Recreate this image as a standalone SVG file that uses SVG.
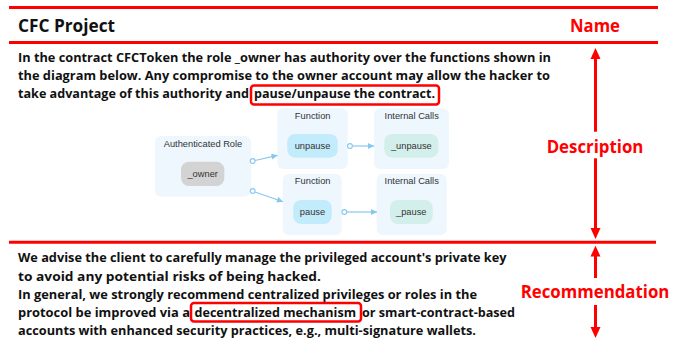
<svg xmlns="http://www.w3.org/2000/svg" width="685" height="343" viewBox="0 0 685 343">
<style>
.rule{stroke:#ff0000;stroke-width:3}
.body{font-family:"Open Sans","Noto Sans",sans-serif;font-weight:700;font-size:13px;fill:#111}
.ann{font-family:"Open Sans","Noto Sans",sans-serif;font-weight:700;font-size:18px;fill:#ff0000;text-anchor:middle}
.hl{fill:none;stroke:#ff0000;stroke-width:2.5}
.cl{fill:#eef6fe}
.lbl{font-family:"Liberation Sans",Arial,sans-serif;font-size:9.3px;fill:#333;text-anchor:middle}
.fn{fill:#c2ebfb}
.ic{fill:#d3efeb}
.role{fill:#d3d3d3}
.edge{stroke:#86c8ee;stroke-width:1.2;fill:none}
.dot{fill:#fff;stroke:#86c8ee;stroke-width:1.1}
.rarr{stroke:#ff0000;stroke-width:3}
</style>
<defs>
<marker id="ah" viewBox="0 0 10 10" refX="10" refY="5" markerWidth="7" markerHeight="6" markerUnits="userSpaceOnUse" orient="auto">
<path d="M0,0 L10,5 L0,10 z" fill="#86c8ee"/>
</marker>
</defs>
<rect width="685" height="343" fill="#fff"/>

<g id="rules">
<line class="rule" x1="9" y1="7.5" x2="658" y2="7.5"/>
<line class="rule" x1="9" y1="42.5" x2="658" y2="42.5"/>
<line class="rule" x1="9" y1="242.3" x2="656" y2="242.3"/>
</g>

<g id="title">
<text x="18" y="31.7" font-family="Open Sans, Noto Sans, sans-serif" font-weight="700" font-size="18" fill="#111" textLength="97" lengthAdjust="spacingAndGlyphs">CFC Project</text>
</g>

<g id="description-text">
<text class="body" x="18" y="62" textLength="533" lengthAdjust="spacingAndGlyphs">In the contract CFCToken the role _owner has authority over the functions shown in</text>
<text class="body" x="18" y="80" textLength="532" lengthAdjust="spacingAndGlyphs">the diagram below. Any compromise to the owner account may allow the hacker to</text>
<text class="body" x="18" y="98" textLength="231" lengthAdjust="spacingAndGlyphs">take advantage of this authority and</text>
<text class="body" x="254" y="98" textLength="181" lengthAdjust="spacingAndGlyphs">pause/unpause the contract.</text>
<rect class="hl" x="251" y="85.5" width="188" height="19" rx="3"/>
</g>

<g id="recommendation-text">
<text class="body" x="18" y="262" textLength="488.5" lengthAdjust="spacingAndGlyphs">We advise the client to carefully manage the privileged account's private key</text>
<text class="body" x="18" y="280.5" textLength="303" lengthAdjust="spacingAndGlyphs">to avoid any potential risks of being hacked.</text>
<text class="body" x="18" y="299" textLength="459" lengthAdjust="spacingAndGlyphs">In general, we strongly recommend centralized privileges or roles in the</text>
<text class="body" x="18" y="317" textLength="172" lengthAdjust="spacingAndGlyphs">protocol be improved via a</text>
<text class="body" x="194.5" y="317" textLength="161.5" lengthAdjust="spacingAndGlyphs">decentralized mechanism</text>
<text class="body" x="362" y="317" textLength="153" lengthAdjust="spacingAndGlyphs">or smart-contract-based</text>
<text class="body" x="18" y="335" textLength="458" lengthAdjust="spacingAndGlyphs">accounts with enhanced security practices, e.g., multi-signature wallets.</text>
<rect class="hl" x="191" y="303" width="170" height="18.5" rx="3"/>
</g>

<g id="annotations">
<text class="ann" x="595" y="31.7" textLength="50" lengthAdjust="spacingAndGlyphs">Name</text>
<text class="ann" x="595" y="152.7" textLength="96.7" lengthAdjust="spacingAndGlyphs">Description</text>
<text class="ann" x="595" y="298.3" textLength="148.7" lengthAdjust="spacingAndGlyphs">Recommendation</text>
<line class="rarr" x1="595.5" y1="58" x2="595.5" y2="131.7"/>
<path d="M595.5,48 L600.5,59 L590.5,59 z" fill="#ff0000"/>
<line class="rarr" x1="595.5" y1="158.3" x2="595.5" y2="229"/>
<path d="M595.5,239 L600.5,228 L590.5,228 z" fill="#ff0000"/>
<line class="rarr" x1="595.5" y1="255" x2="595.5" y2="278"/>
<path d="M595.5,245.7 L600.5,256.5 L590.5,256.5 z" fill="#ff0000"/>
<line class="rarr" x1="595.5" y1="305" x2="595.5" y2="328"/>
<path d="M595.5,338 L600.5,327 L590.5,327 z" fill="#ff0000"/>
</g>

<g id="cluster-role">
<rect class="cl" x="155" y="136" width="96" height="60.5" rx="6"/>
<text class="lbl" x="203" y="146.5">Authenticated Role</text>
</g>
<g id="node-owner">
<rect class="role" x="181" y="161.7" width="43.3" height="24.3" rx="8"/>
<text class="lbl" x="202.7" y="177">_owner</text>
</g>

<g id="cluster-function-1">
<rect class="cl" x="277.3" y="108.3" width="70.4" height="60.7" rx="6"/>
<text class="lbl" x="312.7" y="118.5">Function</text>
</g>
<g id="node-unpause">
<rect class="fn" x="287.3" y="134" width="50.4" height="23.7" rx="8"/>
<text class="lbl" x="312.5" y="149">unpause</text>
</g>

<g id="cluster-internal-1">
<rect class="cl" x="374" y="108.3" width="75" height="60.7" rx="6"/>
<text class="lbl" x="411.7" y="118.5">Internal Calls</text>
</g>
<g id="node-_unpause">
<rect class="ic" x="384.3" y="134" width="54" height="23.7" rx="8"/>
<text class="lbl" x="411.3" y="149">_unpause</text>
</g>

<g id="cluster-function-2">
<rect class="cl" x="282.7" y="174" width="59" height="61" rx="6"/>
<text class="lbl" x="312.7" y="184">Function</text>
</g>
<g id="node-pause">
<rect class="fn" x="293.3" y="200" width="38.4" height="24" rx="8"/>
<text class="lbl" x="312.5" y="215">pause</text>
</g>

<g id="cluster-internal-2">
<rect class="cl" x="376.7" y="174" width="70" height="61" rx="6"/>
<text class="lbl" x="411.7" y="184">Internal Calls</text>
</g>
<g id="node-_pause">
<rect class="ic" x="390" y="200" width="42.7" height="24" rx="8"/>
<text class="lbl" x="411.3" y="215">_pause</text>
</g>

<g id="connectors">
<line class="edge" x1="255" y1="160.5" x2="277.5" y2="155.3" marker-end="url(#ah)"/>
<circle class="dot" cx="252.7" cy="161" r="2.4"/>
<line class="edge" x1="255" y1="192" x2="283" y2="201.7" marker-end="url(#ah)"/>
<circle class="dot" cx="252.7" cy="191" r="2.4"/>
<line class="edge" x1="352.5" y1="146" x2="374" y2="146" marker-end="url(#ah)"/>
<circle class="dot" cx="350" cy="146" r="2.4"/>
<line class="edge" x1="346.8" y1="212" x2="377" y2="212" marker-end="url(#ah)"/>
<circle class="dot" cx="344.3" cy="212" r="2.4"/>
</g>
</svg>
